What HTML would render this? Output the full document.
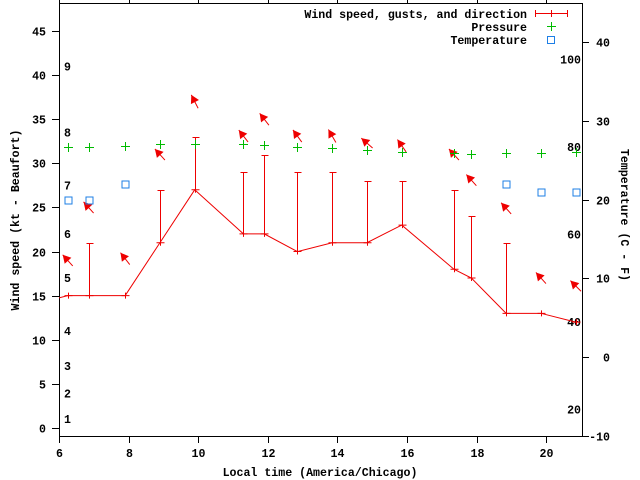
<!DOCTYPE html>
<html><head><meta charset="utf-8"><style>
html,body{margin:0;padding:0;background:#fff;}
svg{display:block;font-family:"Liberation Mono",monospace;font-weight:bold;font-size:11.6px;}
</style></head><body>
<svg id="chart" width="640" height="480" viewBox="0 0 640 480" xmlns="http://www.w3.org/2000/svg">
<g id="axes"></g>
<g id="plot"></g>
<g id="legend">
 <text x="527" y="18" text-anchor="end">Wind speed, gusts, and direction</text>
 <g stroke="#e00" stroke-width="1">
  <line x1="535" y1="13.5" x2="567" y2="13.5"/><line x1="535.5" y1="10" x2="535.5" y2="17"/><line x1="551.5" y1="10" x2="551.5" y2="17"/><line x1="567.5" y1="10" x2="567.5" y2="17"/>
 </g>
 <text x="527" y="31" text-anchor="end">Pressure</text>
 <g stroke="#0b0"><line x1="547" y1="26.5" x2="556" y2="26.5"/><line x1="551.5" y1="22" x2="551.5" y2="31"/></g>
 <text x="527" y="44" text-anchor="end">Temperature</text>
 <rect x="547.5" y="36.5" width="7" height="7" fill="none" stroke="#1e7fe6"/>
</g>
</svg>
<script>
const times = [6.25,6.85,7.9,8.9,9.9,11.3,11.9,12.85,13.85,14.85,15.85,17.35,17.85,18.85,19.85,20.85];
const windSpeed = [15,15,15,21,27,22,22,20,21,21,23,18,17,13,13,12];
const windGust = [15,21,15,27,33,29,31,29,29,28,28,27,24,21,13,12];
const arrowY = [19.0,25.0,19.2,31.0,37.0,33.1,35.0,33.1,33.1,32.3,32.0,31.0,28.1,24.9,17.0,16.1];
const arrowBearing = [318,318,322,318,333,322,322,324,330,311,325,318,318,318,318,315];
const pressure = [31.9,31.9,32.0,32.2,32.2,32.2,32.1,31.9,31.7,31.5,31.3,31.2,31.1,31.2,31.2,31.3];
const tempC = [20,20,22,null,null,null,null,null,null,null,null,null,null,22,21,21];
const xTicks = [6,8,10,12,14,16,18,20];
const yTicks = [0,5,10,15,20,25,30,35,40,45];
const cTicks = [-10,0,10,20,30,40];
const fLabels = [20,40,60,80,100];
const beaufortLabels = [1,2,3,4,5,6,7,8,9];
const beaufortY = [1,3.9,7,11,17,22,27.5,33.5,41];

const L=59,R=582,T=3,B=436;
const X=t=>L+(t-6)*(R-L)/(21.03-6);
const Y=v=>428-v*8.822;
const YC=c=>357-c*7.87;
const YF=f=>YC((f-32)*5/9);
const NS="http://www.w3.org/2000/svg";
function mk(tag,attrs,parent){const e=document.createElementNS(NS,tag);for(const k in attrs)e.setAttribute(k,attrs[k]);parent.appendChild(e);return e;}
const axes=document.getElementById('axes'), plot=document.getElementById('plot');

let e=mk('rect',{x:L+.5,y:T+.5,width:R-L,height:B-T,fill:'none',stroke:'#000'},axes);


xTicks.forEach(t=>{const x=Math.round(X(t))+.5;
 let l=mk('line',{x1:x,y1:B,x2:x,y2:B+7,stroke:'#000'},axes);
 
 
 l=mk('line',{x1:x,y1:0,x2:x,y2:T,stroke:'#000'},axes);
 
 
 const tx=mk('text',{x:x,y:457,'text-anchor':'middle'},axes);tx.textContent=t;
 
 
});
yTicks.forEach(v=>{const y=Math.round(Y(v))+.5;
 const l=mk('line',{x1:L-7,y1:y,x2:L,y2:y,stroke:'#000'},axes);
 
 
 const tx=mk('text',{x:46,y:y+4,'text-anchor':'end'},axes);tx.textContent=v;
 
 
});
cTicks.forEach(c=>{const y=Math.round(YC(c))+.5;
 const l=mk('line',{x1:R,y1:y,x2:R+7,y2:y,stroke:'#000'},axes);
 
 
 const tx=mk('text',{x:610,y:y+4,'text-anchor':'end'},axes);tx.textContent=c;
 
 
});
fLabels.forEach(f=>{const tx=mk('text',{x:581,y:YF(f)+4,'text-anchor':'end'},axes);tx.textContent=f;
 
 
});
beaufortLabels.forEach((b,i)=>{const tx=mk('text',{x:64,y:Y(beaufortY[i])+4},axes);tx.textContent=b;
 
 
});
let tt=mk('text',{x:320,y:476,'text-anchor':'middle'},axes);tt.textContent='Local time (America/Chicago)';


tt=mk('text',{x:0,y:0,'text-anchor':'middle',transform:'translate(19,220) rotate(-90)'},axes);tt.textContent='Wind speed (kt - Beaufort)';


tt=mk('text',{x:0,y:0,'text-anchor':'middle',transform:'translate(621,215) rotate(90)'},axes);tt.textContent='Temperature (C - F)';



const defs=mk('defs',{},plot);const cp=mk('clipPath',{id:'clip'},defs);mk('rect',{x:L,y:T,width:R-L+1,height:B-T},cp);
const g=mk('g',{'clip-path':'url(#clip)'},plot);
const pts=[[5.75,14.5]].concat(times.map((t,i)=>[t,windSpeed[i]]));
const pl=mk('polyline',{points:pts.map(p=>X(p[0])+','+Y(p[1])).join(' '),fill:'none',stroke:'#e00'},g);


times.forEach((t,i)=>{
 const x=Math.round(X(t))+.5,y=Y(windSpeed[i]);
 const m=mk('path',{d:`M${x-4},${y}H${x+4}M${x},${y-3}V${y+3}`,stroke:'#e00',fill:'none'},g);
 
 
 if(windGust[i]>windSpeed[i]){const gy=Math.round(Y(windGust[i]))+.5;
  const b=mk('path',{d:`M${x},${y}V${gy}M${x-3},${gy}H${x+4}`,stroke:'#e00',fill:'none'},g);
  
  }
 const a=arrowBearing[i]*Math.PI/180, dx=Math.sin(a), dy=-Math.cos(a), len=15;
 const cx=X(t), cy=Y(arrowY[i]);
 const hx=cx+dx*len/2, hy=cy+dy*len/2, txx=cx-dx*len/2, tyy=cy-dy*len/2;
 const px=-dy, py=dx;
 const bx=hx-dx*8, by=hy-dy*8;
 const ar=mk('g',{},g);
 
 
 mk('line',{x1:txx,y1:tyy,x2:hx,y2:hy,stroke:'#e00'},ar);
 mk('polygon',{points:`${hx},${hy} ${bx+px*4.5},${by+py*4.5} ${bx-px*4.5},${by-py*4.5}`,fill:'#e00'},ar);
 const px2=Math.round(X(t))+.5,py2=Math.round(Y(pressure[i]))+.5;
 const pp=mk('path',{d:`M${px2-4.5},${py2}H${px2+4.5}M${px2},${py2-4.5}V${py2+4.5}`,stroke:'#0b0',fill:'none'},g);
 
 
 if(tempC[i]!==null){const ty=Math.round(YC(tempC[i]))+.5;
  const sq=mk('rect',{x:px2-3.5,y:ty-3.5,width:7,height:7,fill:'none',stroke:'#1e7fe6'},g);
  
  }
});
</script>
</body></html>
